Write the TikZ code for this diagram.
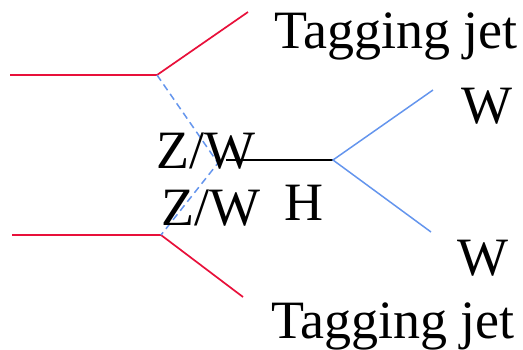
\documentclass[tikz,border=0pt]{standalone}
\usepackage{fontspec}
\setmainfont{Liberation Serif}
\definecolor{jetred}{RGB}{232,16,58}
\definecolor{bosonblue}{RGB}{100,149,237}
\begin{document}
\begin{tikzpicture}[x=1pt,y=-1pt,
  jet/.style={draw=jetred,line width=1.7pt},
  boson/.style={draw=bosonblue,line width=1.5pt},
  vboson/.style={draw=bosonblue,line width=1.5pt,dash pattern=on 7pt off 4.5pt},
  higgs/.style={draw=black,line width=1.7pt},
  lbl/.style={anchor=base west,inner sep=0pt,font=\fontsize{54}{62}\selectfont}]
\useasboundingbox (0,0) rectangle (523,349);
% vertices and free ends
\coordinate (inA) at (10,75);
\coordinate (vA) at (157,75);
\coordinate (outA) at (248,12);
\coordinate (inB) at (12,235);
\coordinate (vB) at (161,235);
\coordinate (outB) at (243,297);
\coordinate (vV) at (218,163);
\coordinate (hS) at (226,160);
\coordinate (vH) at (333,160);
\coordinate (wA) at (433,90);
\coordinate (wB) at (431,232);
% lines
\draw[jet] (inA) -- (vA) -- (outA);
\draw[jet] (inB) -- (vB) -- (outB);
\draw[vboson] (vA) -- (vV) -- (vB);
\draw[higgs] (hS) -- (vH);
\draw[boson] (wA) -- (vH) -- (wB);
% labels
\node[lbl] (tjA) at (274,48) {Tagging jet};
\node[lbl] (tjB) at (271,338) {Tagging jet};
\node[lbl] (wlA) at (461,123) {W};
\node[lbl] (wlB) at (457,275) {W};
\node[lbl] (zwA) at (156,168) {Z/W};
\node[lbl] (zwB) at (161,225) {Z/W};
\node[lbl] (hl) at (284,220) {H};
\end{tikzpicture}
\end{document}
